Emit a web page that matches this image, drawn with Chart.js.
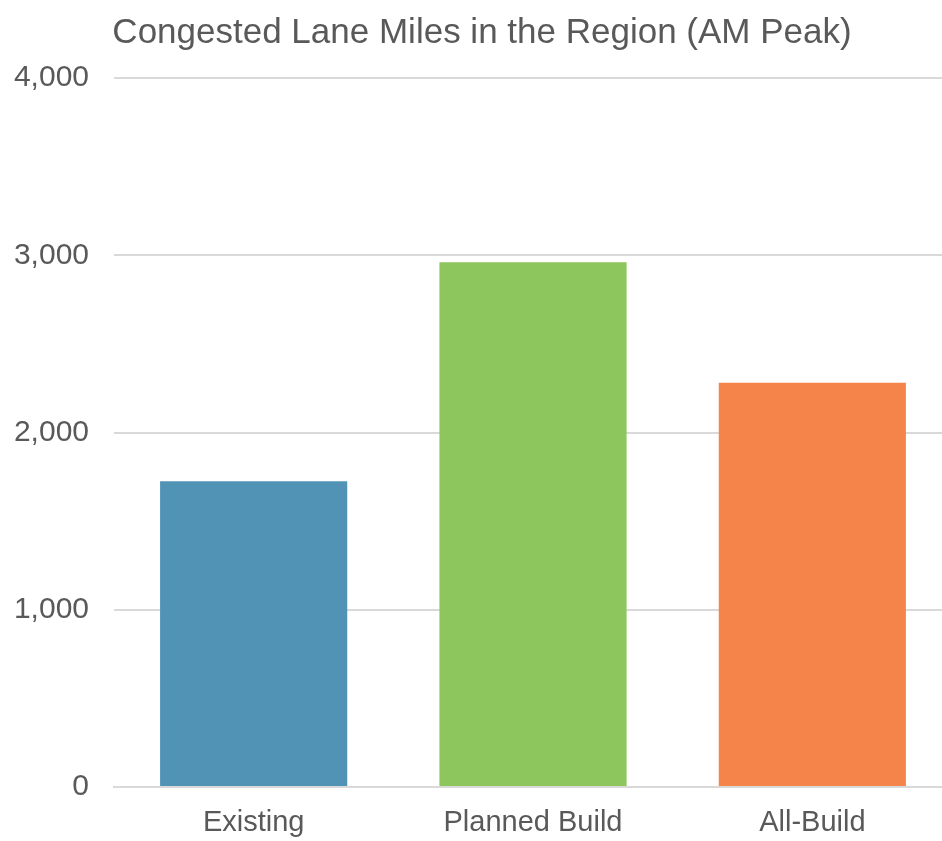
<!DOCTYPE html>
<html>
<head>
<meta charset="utf-8">
<script src="https://cdn.jsdelivr.net/npm/chart.js@4"></script>
<style>
  html, body { margin: 0; padding: 0; overflow: hidden; background: #fff; }
  #wrap { position: absolute; left: 0; top: 0; width: 952px; height: 841px; }
</style>
</head>
<body>
<div id="wrap"><canvas id="myChart"></canvas></div>
<script>
// data
const categories = ['Existing', 'Planned Build', 'All-Build'];
const laneMiles = [1725, 2960, 2280];
const barColors = ['#5093b5', '#8cc65c', '#f4844a'];
const yTicks = [0, 1000, 2000, 3000, 4000];

const FONT = '"Liberation Sans", Arial, sans-serif';
const GREY = '#595959';

const ctx = document.getElementById('myChart');
new Chart(ctx, {
  type: 'bar',
  data: {
    labels: categories,
    datasets: [{
      label: 'Congested Lane Miles',
      data: laneMiles,
      backgroundColor: barColors,
      borderWidth: 0,
      barPercentage: 0.67,
      categoryPercentage: 1
    }]
  },
  options: {
    responsive: true,
    maintainAspectRatio: false,
    animation: false,
    layout: { padding: { top: 12, left: 12, right: 0, bottom: 3 } },
    plugins: {
      legend: { display: false },
      tooltip: { enabled: false },
      title: {
        display: true,
        text: 'Congested Lane Miles in the Region (AM Peak)',
        color: GREY,
        font: { family: FONT, size: 35, weight: 'normal' },
        padding: { top: 0, bottom: 24 }
      }
    },
    scales: {
      x: {
        afterFit: axis => { axis.height = 51; },
        grid: { display: false },
        border: { display: true, color: '#d9d9d9', width: 2 },
        ticks: { color: GREY, font: { family: FONT, size: 29 }, padding: 11 }
      },
      y: {
        min: yTicks[0],
        max: yTicks[yTicks.length - 1],
        afterBuildTicks: axis => { axis.ticks = yTicks.map(v => ({ value: v })); },
        afterFit: axis => { axis.width = 102; },
        grid: { color: '#d9d9d9', lineWidth: 2, drawTicks: false },
        border: { display: false },
        ticks: {
          color: GREY,
          font: { family: FONT, size: 30 },
          padding: 25,
          callback: v => v.toLocaleString('en-US')
        }
      }
    }
  }
});
</script>
</body>
</html>
